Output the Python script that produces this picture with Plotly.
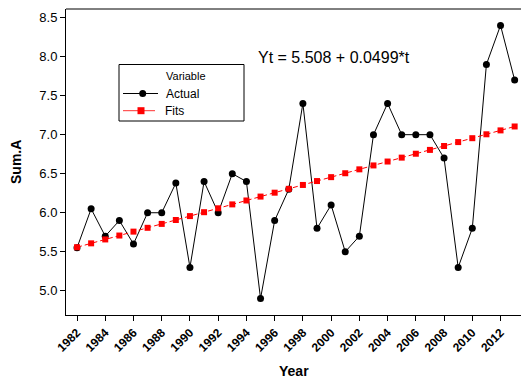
import plotly.graph_objects as go

years = list(range(1982, 2014))
actual = [5.55, 6.05, 5.7, 5.9, 5.6, 6.0, 6.0, 6.38, 5.3, 6.4, 6.0, 6.5, 6.4, 4.9, 5.9, 6.3,
          7.4, 5.8, 6.1, 5.5, 5.7, 7.0, 7.4, 7.0, 7.0, 7.0, 6.7, 5.3, 5.8, 7.9, 8.4, 7.7]
fits = [5.558, 5.608, 5.658, 5.708, 5.758, 5.807, 5.857, 5.907, 5.957, 6.007, 6.057, 6.107,
        6.157, 6.207, 6.257, 6.306, 6.356, 6.406, 6.456, 6.506, 6.556, 6.606, 6.656, 6.706,
        6.756, 6.805, 6.855, 6.905, 6.955, 7.005, 7.055, 7.105]
x_ticks = list(range(1982, 2013, 2))
y_ticks = [5.0, 5.5, 6.0, 6.5, 7.0, 7.5, 8.0, 8.5]
equation = "Yt = 5.508 + 0.0499*t"
legend_title = "Variable"
series_names = ["Actual", "Fits"]

FONT = "Liberation Sans"
W, H = 521, 381
L, R, T, B = 66, 0, 9, 66
PW, PH = W - L - R, H - T - B


def px(x):
    return (x - L) / PW


def py(y):
    return (H - B - y) / PH


fig = go.Figure()
fig.add_trace(go.Scatter(
    x=years, y=actual, name=series_names[0], mode="lines+markers", showlegend=False,
    line=dict(color="black", width=1),
    marker=dict(symbol="circle", size=7, color="black"),
))
fig.add_trace(go.Scatter(
    x=years, y=fits, name=series_names[1], mode="lines+markers", showlegend=False,
    line=dict(color="#ff0000", width=1, dash="5px,3px"),
    marker=dict(symbol="square", size=6, color="#ff0000"),
))

shapes = []
annotations = []

# top frame line (no right border, as in the cropped reference)
shapes.append(dict(type="line", xref="paper", yref="paper", x0=0, x1=1, y0=1, y1=1,
                   line=dict(color="black", width=1)))

# legend box
shapes.append(dict(type="rect", xref="paper", yref="paper",
                   x0=px(119), x1=px(244), y0=py(121), y1=py(64.5),
                   line=dict(color="black", width=1), fillcolor="white", layer="above"))
annotations.append(dict(x=px(186), y=py(76), xref="paper", yref="paper",
                        text=legend_title, showarrow=False, xanchor="center", yanchor="middle",
                        font=dict(family=FONT, size=11, color="black")))
# Actual entry
shapes.append(dict(type="line", xref="paper", yref="paper",
                   x0=px(123), x1=px(158), y0=py(93.5), y1=py(93.5),
                   line=dict(color="black", width=1), layer="above"))
shapes.append(dict(type="circle", xref="paper", yref="paper",
                   x0=px(142.7 - 3.5), x1=px(142.7 + 3.5), y0=py(93.5 + 3.5), y1=py(93.5 - 3.5),
                   line=dict(color="black", width=0), fillcolor="black", layer="above"))
annotations.append(dict(x=px(164), y=py(93.5), xref="paper", yref="paper",
                        text=series_names[0], showarrow=False, xanchor="left", yanchor="middle",
                        font=dict(family=FONT, size=12, color="black")))
# Fits entry
shapes.append(dict(type="line", xref="paper", yref="paper",
                   x0=px(123), x1=px(155), y0=py(110.7), y1=py(110.7),
                   line=dict(color="#ff3030", width=1), layer="above"))
shapes.append(dict(type="rect", xref="paper", yref="paper",
                   x0=px(141 - 3.5), x1=px(141 + 3.5), y0=py(110.7 + 3.5), y1=py(110.7 - 3.5),
                   line=dict(color="#ff0000", width=0), fillcolor="#ff0000", layer="above"))
annotations.append(dict(x=px(163), y=py(110.7), xref="paper", yref="paper",
                        text=series_names[1], showarrow=False, xanchor="left", yanchor="middle",
                        font=dict(family=FONT, size=12, color="black")))

# equation
annotations.append(dict(x=px(256), y=py(58), xref="paper", yref="paper",
                        text=equation, showarrow=False, xanchor="left", yanchor="middle",
                        font=dict(family=FONT, size=16, color="black")))

# axis titles
annotations.append(dict(x=px(16), y=0.5, xref="paper", yref="paper",
                        text="<b>Sum.A</b>", showarrow=False, textangle=-90,
                        xanchor="center", yanchor="middle",
                        font=dict(family=FONT, size=14, color="black")))
annotations.append(dict(x=0.5, y=py(371), xref="paper", yref="paper",
                        text="<b>Year</b>", showarrow=False,
                        xanchor="center", yanchor="middle",
                        font=dict(family=FONT, size=14, color="black")))

fig.update_layout(
    width=W, height=H,
    margin=dict(l=L, r=R, t=T, b=B, autoexpand=False),
    paper_bgcolor="white", plot_bgcolor="white",
    font=dict(family=FONT, size=12, color="black"),
    showlegend=False,
    shapes=shapes, annotations=annotations,
    xaxis=dict(
        range=[1981.22, 2013.45], tickvals=x_ticks,
        ticktext=[f"<b>{v}</b>" for v in x_ticks],
        tickangle=-45, ticks="outside", ticklen=5, tickcolor="black",
        showline=True, linecolor="black", linewidth=1, mirror=False,
        showgrid=False, zeroline=False, automargin=False,
        tickfont=dict(family=FONT, size=12, color="black"),
    ),
    yaxis=dict(
        range=[4.69, 8.61], tickvals=y_ticks, ticktext=[f"{v:.1f}" for v in y_ticks],
        ticks="outside", ticklen=5, tickcolor="black",
        showline=True, linecolor="black", linewidth=1, mirror=False,
        showgrid=False, zeroline=False, automargin=False,
        tickfont=dict(family=FONT, size=13, color="black"),
    ),
)

fig.write_html(
    "out.html",
    config={"displayModeBar": False},
    post_script="document.body.style.margin='0';document.body.style.overflow='hidden';",
)
